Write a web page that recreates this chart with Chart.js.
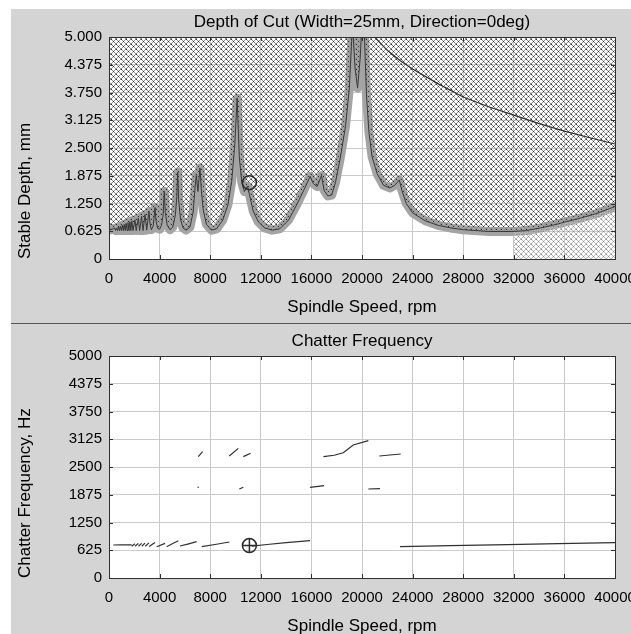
<!DOCTYPE html>
<html>
<head>
<meta charset="utf-8">
<script src="https://cdn.jsdelivr.net/npm/chart.js@4"></script>
<style>
  html, body { margin: 0; padding: 0; background: #ffffff; overflow: hidden; width: 631px; height: 634px; }
  #panel { position: absolute; left: 11px; top: 9px; width: 620px; height: 625px; background: #d4d4d4; }
  #sep { position: absolute; left: 11px; top: 323px; width: 620px; height: 1px; background: #555555; }
  canvas { position: absolute; left: 11px; }
  #depth { top: 9px; }
  #freq { top: 325px; }
</style>
</head>
<body>
<div id="panel"></div>
<div id="sep"></div>
<canvas id="depth" width="640" height="315"></canvas>
<canvas id="freq" width="640" height="309"></canvas>
<script>
// axis ticks
const speedTicks = [0, 4000, 8000, 12000, 16000, 20000, 24000, 28000, 32000, 36000, 40000];
const depthTicks = [0, 0.625, 1.25, 1.875, 2.5, 3.125, 3.75, 4.375, 5];
const depthLabels = ['0', '0.625', '1.250', '1.875', '2.500', '3.125', '3.750', '4.375', '5.000'];
const freqTicks = [0, 625, 1250, 1875, 2500, 3125, 3750, 4375, 5000];
const freqLabels = ['0', '625', '1250', '1875', '2500', '3125', '3750', '4375', '5000'];

// stability limit (rpm, mm)
const curveRpm = [
    0, 450, 520, 600, 680, 750, 830, 900, 980, 1050, 1130, 1200, 1280, 1350, 1430, 1500, 1580,
    1650, 1730, 1800, 1900, 2050, 2150, 2320, 2420, 2580, 2690, 2850, 2980, 3160, 3240, 3350,
    3500, 3640, 3720, 3850, 4000, 4150, 4280, 4370, 4450, 4600, 4820, 5050, 5250, 5360, 5430,
    5500, 5650, 5850, 6100, 6400, 6650, 6800, 6900, 7030, 7190, 7300, 7450, 7700, 8100, 8500,
    9000, 9400, 9700, 9950, 10130, 10300, 10500, 10700, 10950, 11100, 11400, 11800, 12300,
    12900, 13500, 14200, 14800, 15400, 15900, 16150, 16450, 16800, 17000, 17300, 17600, 17900,
    18300, 18700, 19000, 19250, 19450, 19650, 19850, 20100, 20350, 20550, 20800, 21200, 21700,
    22200, 22600, 22950, 23150, 23500, 24000, 25000, 26000, 27000, 28000, 30000, 32000, 33000,
    34300, 35500, 36000, 37000, 38500, 40000,
];
const curveDepth = [
    0.65, 0.69, 0.64, 0.70, 0.64, 0.72, 0.64, 0.74, 0.64, 0.76, 0.64, 0.78, 0.64, 0.80, 0.64, 0.82, 0.64,
    0.84, 0.64, 0.86, 0.64, 0.88, 0.64, 0.92, 0.64, 0.96, 0.64, 1.00, 0.65, 1.07, 0.80, 0.66,
    0.75, 1.16, 0.85, 0.69, 0.67, 0.76, 1.00, 1.52, 1.05, 0.76, 0.66, 0.72, 1.00, 1.40, 1.96,
    1.35, 0.90, 0.70, 0.65, 0.72, 1.05, 1.60, 1.88, 1.52, 2.05, 1.55, 1.10, 0.78, 0.65, 0.68,
    0.88, 1.22, 1.75, 2.60, 3.62, 2.30, 1.72, 1.52, 1.64, 1.45, 1.08, 0.84, 0.70,
    0.65, 0.68, 0.88, 1.20, 1.55, 1.86, 1.70, 1.63, 1.88, 1.55, 1.42, 1.44, 1.72,
    2.30, 3.00, 3.85, 5.30, 4.30, 3.85, 4.50, 5.80, 3.70, 2.85, 2.30, 1.92, 1.66,
    1.60, 1.66, 1.78, 1.55, 1.25, 1.04, 0.86, 0.76, 0.70, 0.66, 0.62, 0.62, 0.64,
    0.71, 0.79, 0.83, 0.90, 1.02, 1.18,
];

// next lobe, top right
const lobeRpm = [21000, 22000, 23000, 24000, 26000, 28000, 30000, 32000, 34000, 36000, 38000, 40000];
const lobeDepth = [5.0, 4.70, 4.47, 4.28, 3.95, 3.65, 3.43, 3.24, 3.05, 2.88, 2.73, 2.59];

const lightZoneStart = 32000;

// chatter frequency segments, null = break
const chatterRpm = [
    340, 1000, 1790, null,
    1800, 2050, null, 2060, 2320, null, 2330, 2580, null, 2590, 2850, null, 2870, 3160, null, 3170, 3640, null,
    3770, 4430, null,
    4560, 5000, 5480, null,
    5610, 6300, 6930, null,
    7330, 8500, 9510, null,
    11280, 12500, 14000, 15890, null,
    23000, 27000, 31500, 35500, 40000, null,
    7000, 7100, null,
    10300, 10620, null,
    15890, 17000, null,
    20500, 21420, null,
    7060, 7400, null,
    9510, 10220, null,
    10620, 11200, null,
    16950, 17800, 18520, 19310, 20500, null,
    21370, 23060,
];
const chatterHz = [
    743, 745, 748, null,
    715, 770, null, 715, 775, null, 715, 780, null, 715, 785, null, 715, 790, null, 712, 800, null,
    705, 780, null,
    705, 770, 840, null,
    720, 770, 818, null,
    705, 760, 811, null,
    720, 755, 795, 840, null,
    705, 730, 750, 775, 795, null,
    2040, 2045, null,
    2005, 2043, null,
    2043, 2080, null,
    2005, 2012, null,
    2733, 2845, null,
    2748, 2920, null,
    2733, 2808, null,
    2732, 2765, 2822, 2995, 3093, null,
    2748, 2793,
];

// selected point
const pickRpm = 11100;
const pickDepth = 1.72;
const pickHz = 730;

const toPoints = (xs, ys) => xs.map((x, i) => ({ x: x ?? NaN, y: ys[i] }));

const hatch = (line, dot) => {
    const tile = document.createElement('canvas');
    tile.width = 5;
    tile.height = 5;
    const c = tile.getContext('2d');
    c.fillStyle = line;
    for (let i = 0; i < 5; i++) {
        c.fillRect(i, i, 1, 1);
        c.fillRect(4 - i, i, 1, 1);
    }
    c.fillStyle = dot;
    c.fillRect(2, 2, 1, 1);
    c.fillRect(0, 0, 1, 1);
    return document.createElement('canvas').getContext('2d').createPattern(tile, 'repeat');
};

const font = (size) => ({ family: '"Liberation Sans", Arial, sans-serif', size });

const frame = {
    id: 'frame',
    beforeDraw(chart) {
        const { ctx, chartArea: a } = chart;
        ctx.save();
        ctx.fillStyle = '#ffffff';
        ctx.fillRect(a.left, a.top, a.right - a.left, a.bottom - a.top);
        ctx.restore();
    },
    afterDraw(chart, args, opts) {
        const { ctx, chartArea: a, scales } = chart;
        ctx.save();
        ctx.strokeStyle = '#303030';
        ctx.lineWidth = 1;
        ctx.beginPath();
        speedTicks.forEach((v) => {
            const px = Math.round(scales.x.getPixelForValue(v)) + 0.5;
            ctx.moveTo(px, a.bottom);
            ctx.lineTo(px, a.bottom - 4);
            ctx.moveTo(px, a.top);
            ctx.lineTo(px, a.top + 4);
        });
        opts.yTicks.forEach((v) => {
            const py = Math.round(scales.y.getPixelForValue(v)) + 0.5;
            ctx.moveTo(a.left, py);
            ctx.lineTo(a.left + 4, py);
            ctx.moveTo(a.right, py);
            ctx.lineTo(a.right - 4, py);
        });
        ctx.stroke();
        ctx.strokeRect(Math.round(a.left) + 0.5, Math.round(a.top) + 0.5, Math.round(a.right - a.left), Math.round(a.bottom - a.top));

        ctx.fillStyle = '#000000';
        ctx.font = '17px "Liberation Sans", Arial, sans-serif';
        ctx.textAlign = 'center';
        ctx.textBaseline = 'middle';
        const cx = (a.left + a.right) / 2;
        ctx.fillText(opts.title, cx, opts.titleY);
        ctx.fillText('Spindle Speed, rpm', cx, opts.xTitleY);
        ctx.translate(14, a.bottom);
        ctx.rotate(-Math.PI / 2);
        ctx.textAlign = 'left';
        ctx.fillText(opts.yTitle, 0, 0);
        ctx.restore();
    },
};

const xScale = (height, z) => ({
    type: 'linear',
    min: 0,
    max: 40000,
    z,
    afterBuildTicks: (scale) => { scale.ticks = speedTicks.map((value) => ({ value })); },
    afterFit: (scale) => { scale.height = height; scale.paddingLeft = 0; scale.paddingRight = 0; },
    grid: { color: '#cbcbcb', drawTicks: false },
    border: { display: false },
    ticks: { color: '#000000', font: font(15), padding: 11, maxRotation: 0, autoSkip: false, callback: (v) => String(v) },
});

const yScale = (max, values, labels, z) => ({
    type: 'linear',
    min: 0,
    max,
    z,
    afterBuildTicks: (scale) => { scale.ticks = values.map((value) => ({ value })); },
    afterFit: (scale) => { scale.width = 98; scale.paddingTop = 0; scale.paddingBottom = 0; },
    grid: { color: '#cbcbcb', drawTicks: false },
    border: { display: false },
    ticks: { color: '#000000', font: font(15), padding: 7, autoSkip: false, callback: (v, i) => labels[i] },
});

const baseOptions = (padTop) => ({
    responsive: false,
    animation: false,
    devicePixelRatio: 1,
    events: [],
    layout: { padding: { top: padTop, right: 36, left: 0, bottom: 0 } },
    elements: { point: { radius: 0 }, line: { tension: 0 } },
});

const curve = toPoints(curveRpm, curveDepth);
const lightZone = curve.filter((p) => p.x >= lightZoneStart);

new Chart(document.getElementById('depth'), {
    type: 'line',
    data: {
        datasets: [
            { data: curve, borderColor: '#a4a4a4', borderWidth: 9, borderJoinStyle: 'round', borderCapStyle: 'round', fill: false, order: 6 },
            { data: curve, borderWidth: 0, borderColor: 'transparent', backgroundColor: hatch('#8e8e8e', '#2c2c2c'), fill: 'end', order: 5 },
            { data: lightZone, borderWidth: 0, borderColor: 'transparent', backgroundColor: hatch('#bcbcbc', '#848484'), fill: 'origin', order: 4 },
            { data: curve, borderColor: '#383838', borderWidth: 1, fill: false, order: 3 },
            { data: toPoints(lobeRpm, lobeDepth), borderColor: '#303030', borderWidth: 1.2, fill: false, order: 2 },
            { data: [{ x: pickRpm, y: pickDepth }], showLine: false, pointRadius: 7, pointBorderWidth: 1.5, pointBorderColor: '#2a2a2a', pointBackgroundColor: 'transparent', order: 1 },
        ],
    },
    options: {
        ...baseOptions(28),
        scales: {
            x: xScale(65, 1),
            y: yScale(5, depthTicks, depthLabels, 1),
        },
        plugins: {
            legend: { display: false },
            tooltip: { enabled: false },
            frame: { title: 'Depth of Cut (Width=25mm, Direction=0deg)', yTitle: 'Stable Depth, mm', titleY: 13, xTitleY: 298, yTicks: depthTicks },
        },
    },
    plugins: [frame],
});

new Chart(document.getElementById('freq'), {
    type: 'line',
    data: {
        datasets: [
            { data: toPoints(chatterRpm, chatterHz), borderColor: '#303030', borderWidth: 1.2, spanGaps: false, fill: false },
            { data: [{ x: pickRpm, y: pickHz }], showLine: false, pointStyle: 'circle', pointRadius: 7, pointBorderWidth: 1.5, pointBorderColor: '#2a2a2a', pointBackgroundColor: 'transparent' },
            { data: [{ x: pickRpm, y: pickHz }], showLine: false, pointStyle: 'cross', pointRadius: 7, pointBorderWidth: 1.5, pointBorderColor: '#2a2a2a' },
        ],
    },
    options: {
        ...baseOptions(31),
        scales: {
            x: xScale(56, 0),
            y: yScale(5000, freqTicks, freqLabels, 0),
        },
        plugins: {
            legend: { display: false },
            tooltip: { enabled: false },
            frame: { title: 'Chatter Frequency', yTitle: 'Chatter Frequency, Hz', titleY: 16, xTitleY: 301, yTicks: freqTicks },
        },
    },
    plugins: [frame],
});
</script>
</body>
</html>
